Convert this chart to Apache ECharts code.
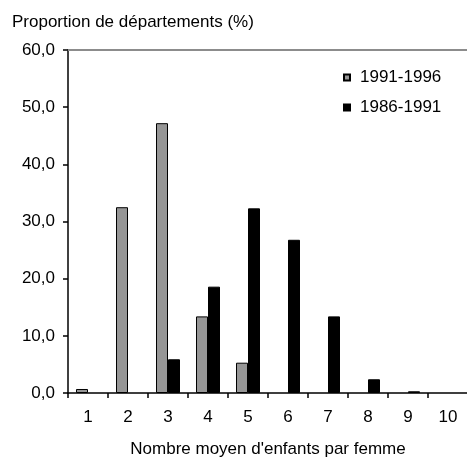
<!DOCTYPE html>
<html>
<head>
<meta charset="utf-8">
<script src="https://cdn.jsdelivr.net/npm/echarts@6/dist/echarts.min.js"></script>
<style>
    html, body { margin: 0; padding: 0; background: #fff; }
    #chart { width: 467px; height: 459px; }
</style>
</head>
<body>
<div id="chart"></div>
<script>
// nombre moyen d'enfants par femme
const categories = ['1', '2', '3', '4', '5', '6', '7', '8', '9', '10'];
const serie9196 = [0.7, 32.5, 47.2, 13.4, 5.3, 0, 0, 0, 0, 0];
const serie8691 = [0, 0, 5.9, 18.6, 32.3, 26.8, 13.4, 2.4, 0.3, 0];
const yTicks = [0, 10, 20, 30, 40, 50, 60];

const font = 'Liberation Sans, Arial, sans-serif';

// les barres nulles ne sont pas dessinées (pas de trait sur l'axe)
const noZero = (arr) => arr.map((v) => (v === 0 ? '-' : v));

const myChart = echarts.init(document.getElementById('chart'), null, { renderer: 'canvas' });

const option = {
    animation: false,
    backgroundColor: '#fff',
    textStyle: { fontFamily: font },
    title: {
        text: 'Proportion de départements (%)',
        left: 7,
        top: 9,
        textStyle: { fontFamily: font, fontSize: 17, fontWeight: 'normal', color: '#000' }
    },
    legend: {
        orient: 'vertical',
        left: 338,
        top: 64,
        itemWidth: 6,
        itemHeight: 6,
        itemGap: 13,
        icon: 'rect',
        data: ['1991-1996', '1986-1991'],
        textStyle: { fontFamily: font, fontSize: 17, color: '#000', padding: [0, 0, 0, 5] }
    },
    grid: {
        left: 68,
        top: 50,
        right: -1,
        bottom: 66,
        outerBoundsMode: 'none'
    },
    xAxis: [{
        type: 'category',
        data: categories,
        boundaryGap: true,
        name: "Nombre moyen d'enfants par femme",
        nameLocation: 'middle',
        nameGap: 48,
        nameTextStyle: { fontFamily: font, fontSize: 17, color: '#000' },
        axisLine: { lineStyle: { color: '#000', width: 1.5 } },
        axisTick: { show: true, length: 5, inside: false, lineStyle: { color: '#000', width: 1.5 } },
        axisLabel: { fontFamily: font, fontSize: 17, color: '#000', margin: 16 },
        splitLine: { show: false }
    }, {
        type: 'category',
        data: categories,
        position: 'top',
        axisLine: { show: true, lineStyle: { color: '#8c8c8c', width: 2 } },
        axisTick: { show: false },
        axisLabel: { show: false },
        splitLine: { show: false }
    }],
    yAxis: {
        type: 'value',
        min: yTicks[0],
        max: yTicks[yTicks.length - 1],
        interval: 10,
        axisLine: { show: true, lineStyle: { color: '#000', width: 1.5 } },
        axisTick: { show: true, length: 5, lineStyle: { color: '#000', width: 1.5 } },
        axisLabel: {
            fontFamily: font,
            fontSize: 17,
            color: '#000',
            margin: 13,
            formatter: function(v) { return v.toFixed(1).replace('.', ','); }
        },
        splitLine: { show: false }
    },
    series: [{
        name: '1991-1996',
        type: 'bar',
        data: noZero(serie9196),
        barWidth: 12,
        barGap: '0%',
        itemStyle: { color: '#969696', borderColor: '#000', borderWidth: 1 }
    }, {
        name: '1986-1991',
        type: 'bar',
        data: noZero(serie8691),
        barWidth: 12,
        barGap: '0%',
        itemStyle: { color: '#000', borderColor: '#000', borderWidth: 1 }
    }]
};

myChart.setOption(option);
</script>
</body>
</html>
